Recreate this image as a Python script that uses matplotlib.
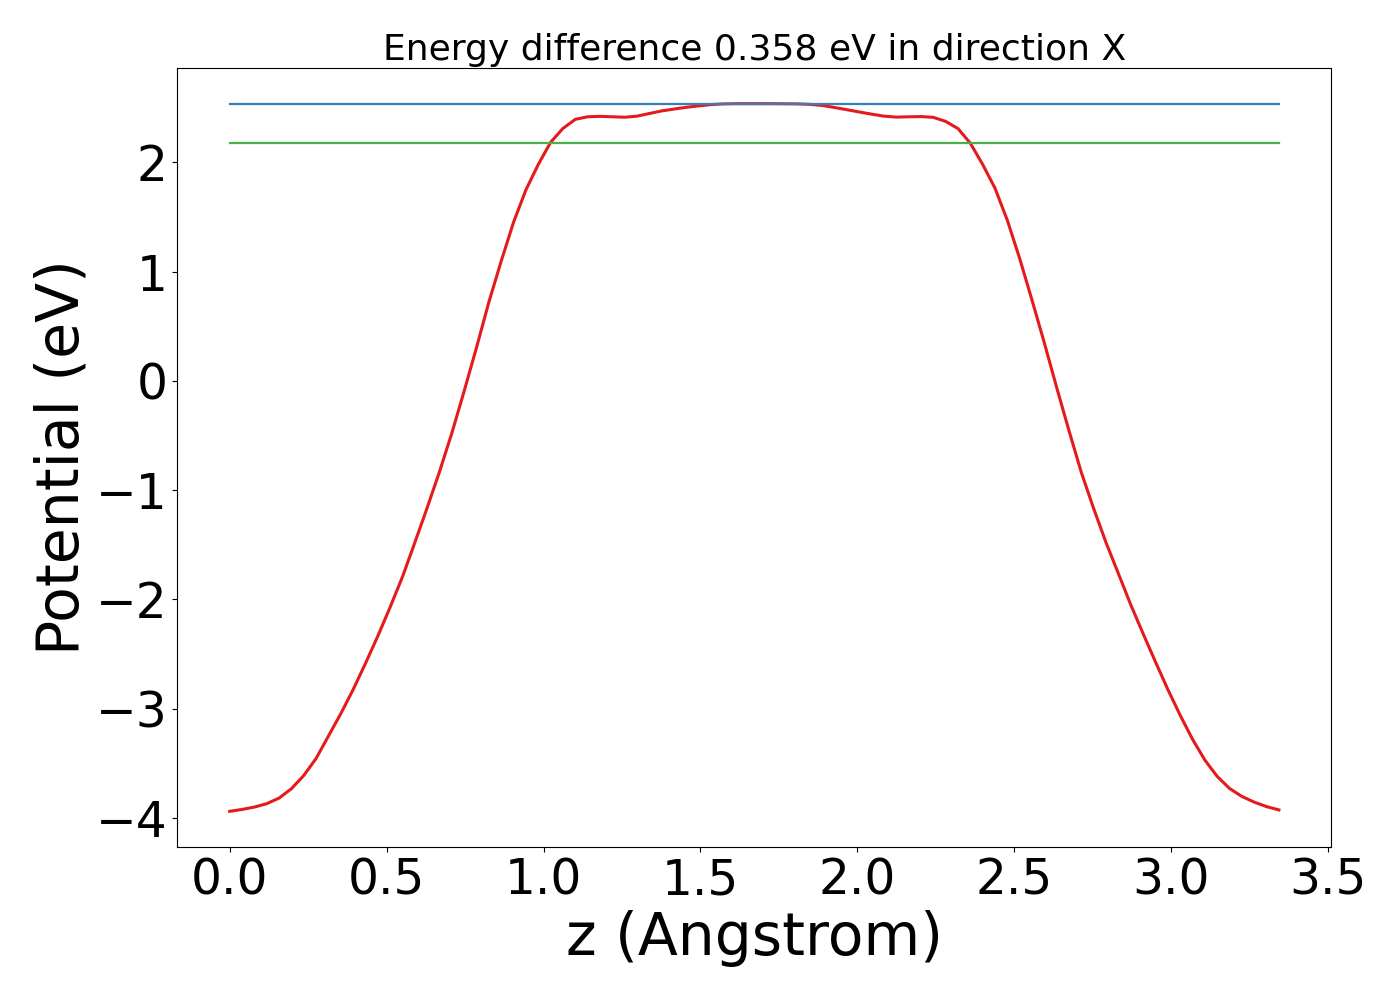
import numpy as np
import matplotlib
matplotlib.use("Agg")
import matplotlib.pyplot as plt

# planar averaged potential along z
dz = 0.03933
potential = [-3.939, -3.922, -3.900, -3.869, -3.818, -3.732, -3.611, -3.455, -3.250, -3.045,
             -2.825, -2.585, -2.335, -2.070, -1.792, -1.479, -1.160, -0.830, -0.476, -0.091,
             0.308, 0.723, 1.098, 1.454, 1.749, 1.981, 2.184, 2.311, 2.394, 2.417,
             2.421, 2.417, 2.413, 2.423, 2.447, 2.471, 2.488, 2.504, 2.517, 2.529,
             2.535, 2.537, 2.537, 2.537, 2.537, 2.536, 2.535, 2.531, 2.521, 2.502,
             2.482, 2.461, 2.441, 2.423, 2.414, 2.417, 2.419, 2.412, 2.375, 2.309,
             2.175, 1.981, 1.763, 1.469, 1.119, 0.738, 0.346, -0.063, -0.459, -0.841,
             -1.171, -1.482, -1.765, -2.050, -2.314, -2.572, -2.824, -3.060, -3.280, -3.470,
             -3.620, -3.730, -3.803, -3.855, -3.896, -3.926]
z = np.arange(len(potential)) * dz

vacuum_level = 2.537
energy_diff = 0.358
lower_level = vacuum_level - energy_diff
direction = "X"

fig = plt.figure(figsize=(14, 10), dpi=100)
ax = fig.add_axes([0.1266, 0.1533, 0.8244, 0.7784])

ax.plot(z, potential, color="#e41a1c", lw=2.2)
ax.plot([z[0], z[-1]], [vacuum_level, vacuum_level], color="#377eb8", lw=1.6)
ax.plot([z[0], z[-1]], [lower_level, lower_level], color="#4daf4a", lw=1.6)

ax.set_title(f"Energy difference {energy_diff:.3f} eV in direction {direction}", fontsize=26)
ax.set_xlabel("z (Angstrom)", fontsize=42)
ax.set_ylabel("Potential (eV)", fontsize=42)
ax.tick_params(labelsize=35)
ax.set_xticks([0.0, 0.5, 1.0, 1.5, 2.0, 2.5, 3.0, 3.5])

fig.savefig("out.png", dpi=100)
